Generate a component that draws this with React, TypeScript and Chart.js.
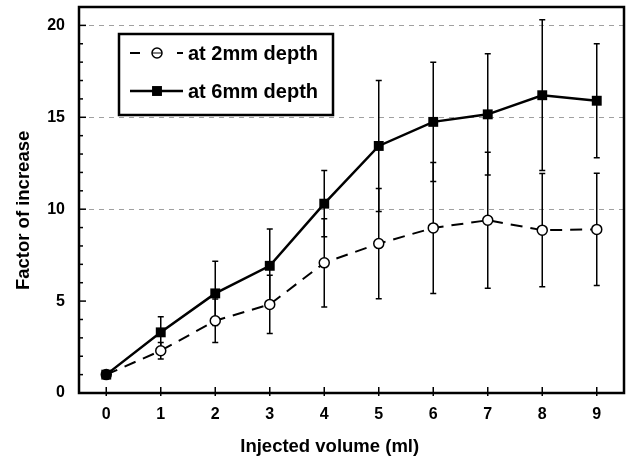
import React, { useEffect, useRef } from 'react';
import { Chart, registerables } from 'chart.js';

Chart.register(...registerables);

const volumes = [0, 1, 2, 3, 4, 5, 6, 7, 8, 9];
const depth2mm = [1.0, 2.3, 3.93, 4.82, 7.08, 8.13, 8.98, 9.4, 8.86, 8.9];
const depth2mmErr = [0, 0.45, 1.18, 1.58, 2.4, 3.0, 3.56, 3.7, 3.08, 3.05];
const depth6mm = [1.0, 3.3, 5.42, 6.92, 10.3, 13.44, 14.75, 15.16, 16.2, 15.9];
const depth6mmErr = [0, 0.85, 1.75, 2.0, 1.8, 3.56, 3.25, 3.3, 4.1, 3.1];
const seriesLabels = ['at 2mm depth', 'at 6mm depth'];
const xTicks = [0, 1, 2, 3, 4, 5, 6, 7, 8, 9];
const yTicks = [0, 5, 10, 15, 20];
const yMinorTicks = [0, 1, 2, 3, 4, 5, 6, 7, 8, 9, 10, 11, 12, 13, 14, 15, 16, 17, 18, 19, 20];
const gridValues = [10, 15, 20];
const xTitle = 'Injected volume (ml)';
const yTitle = 'Factor of increase';

const FONT = "'Liberation Sans', Arial, Helvetica, sans-serif";

const decorPlugin = {
  id: 'decor',
  beforeDatasetsDraw(chart: any) {
    const { ctx, chartArea, scales } = chart;
    const x = scales.x;
    const y = scales.y;
    ctx.save();
    ctx.strokeStyle = '#a0a0a0';
    ctx.lineWidth = 1;
    ctx.setLineDash([5, 5]);
    gridValues.forEach((v) => {
      const py = Math.round(y.getPixelForValue(v)) + 0.5;
      ctx.beginPath();
      ctx.moveTo(chartArea.left, py);
      ctx.lineTo(chartArea.right, py);
      ctx.stroke();
    });
    ctx.setLineDash([]);
    ctx.strokeStyle = '#000';
    ctx.lineWidth = 1.5;
    chart.data.datasets.forEach((ds: any) => {
      ds.data.forEach((pt: any, j: number) => {
        const e = ds.errors[j];
        if (!e) return;
        const px = x.getPixelForValue(pt.x);
        const top = y.getPixelForValue(pt.y + e);
        const bot = y.getPixelForValue(pt.y - e);
        ctx.beginPath();
        ctx.moveTo(px, top);
        ctx.lineTo(px, bot);
        ctx.moveTo(px - 3, top);
        ctx.lineTo(px + 3, top);
        ctx.moveTo(px - 3, bot);
        ctx.lineTo(px + 3, bot);
        ctx.stroke();
      });
    });
    ctx.restore();
  },
  afterDraw(chart: any) {
    const { ctx, chartArea, scales } = chart;
    const x = scales.x;
    const y = scales.y;
    const { left, right, top, bottom } = chartArea;
    ctx.save();
    ctx.strokeStyle = '#000';
    ctx.lineWidth = 2.5;
    ctx.strokeRect(left, top, right - left, bottom - top);
    ctx.lineWidth = 1.5;
    yMinorTicks.forEach((v) => {
      const py = y.getPixelForValue(v);
      const len = yTicks.includes(v) ? 7 : 4;
      ctx.beginPath();
      ctx.moveTo(left, py);
      ctx.lineTo(left + len, py);
      ctx.stroke();
    });
    xTicks.forEach((v) => {
      const px = x.getPixelForValue(v);
      ctx.beginPath();
      ctx.moveTo(px, bottom - 6);
      ctx.lineTo(px, bottom + 3);
      ctx.stroke();
    });
    // axis titles
    ctx.fillStyle = '#000';
    ctx.font = `bold 18.5px ${FONT}`;
    ctx.textAlign = 'center';
    ctx.textBaseline = 'alphabetic';
    ctx.fillText(xTitle, left + (right - left) * 0.46, bottom + 59);
    ctx.save();
    ctx.translate(29, top + (bottom - top) * 0.527);
    ctx.rotate(-Math.PI / 2);
    ctx.fillText(yTitle, 0, 0);
    ctx.restore();
    // legend
    const bx = left + 40;
    const by = top + 27;
    const bw = 214;
    const bh = 81;
    ctx.fillStyle = '#fff';
    ctx.fillRect(bx, by, bw, bh);
    ctx.lineWidth = 2.5;
    ctx.strokeRect(bx, by, bw, bh);
    const rows = [by + 19, by + 57];
    chart.data.datasets.forEach((ds: any, i: number) => {
      const ry = rows[i];
      const x0 = bx + 11;
      const x1 = bx + 64;
      const mx = bx + 38;
      ctx.strokeStyle = '#000';
      ctx.lineWidth = ds.borderWidth;
      ctx.beginPath();
      if (ds.borderDash && ds.borderDash.length) {
        ctx.moveTo(x0, ry);
        ctx.lineTo(x0 + 10, ry);
        ctx.moveTo(x1 - 6, ry);
        ctx.lineTo(x1, ry);
      } else {
        ctx.moveTo(x0, ry);
        ctx.lineTo(x1, ry);
      }
      ctx.stroke();
      if (ds.pointStyle === 'rect') {
        const s = ds.pointRadius * Math.SQRT1_2;
        ctx.fillStyle = '#000';
        ctx.fillRect(mx - s, ry - s, 2 * s, 2 * s);
      } else {
        ctx.beginPath();
        ctx.arc(mx, ry, ds.pointRadius, 0, Math.PI * 2);
        ctx.fillStyle = '#fff';
        ctx.fill();
        ctx.lineWidth = ds.pointBorderWidth;
        ctx.stroke();
        ctx.beginPath();
        ctx.moveTo(mx - ds.pointRadius, ry);
        ctx.lineTo(mx + ds.pointRadius, ry);
        ctx.lineWidth = 1;
        ctx.stroke();
      }
      ctx.fillStyle = '#000';
      ctx.font = `bold 20px ${FONT}`;
      ctx.textBaseline = 'middle';
      ctx.textAlign = 'left';
      ctx.fillText(seriesLabels[i], bx + 69, ry + 1);
    });
    ctx.restore();
  },
};

export default function App() {
  const ref = useRef<HTMLCanvasElement | null>(null);
  useEffect(() => {
    document.body.style.margin = '0';
    const canvas = ref.current;
    if (!canvas) return;
    const chart = new Chart(canvas, {
      type: 'line',
      data: {
        datasets: [
          {
            label: seriesLabels[0],
            data: volumes.map((v, i) => ({ x: v, y: depth2mm[i] })),
            errors: depth2mmErr,
            order: 2,
            borderColor: '#000',
            borderWidth: 2,
            borderDash: [12, 8],
            pointStyle: 'circle',
            pointRadius: 5,
            pointBorderWidth: 1.5,
            pointBackgroundColor: '#fff',
            pointBorderColor: '#000',
            tension: 0,
          } as any,
          {
            label: seriesLabels[1],
            data: volumes.map((v, i) => ({ x: v, y: depth6mm[i] })),
            errors: depth6mmErr,
            order: 1,
            borderColor: '#000',
            borderWidth: 2.5,
            pointStyle: 'rect',
            pointRadius: 7,
            pointBorderWidth: 0,
            pointBackgroundColor: '#000',
            pointBorderColor: '#000',
            tension: 0,
          } as any,
        ],
      },
      options: {
        responsive: false,
        animation: false,
        devicePixelRatio: 1,
        layout: { padding: { top: 7, right: 6, left: 0, bottom: 0 } },
        plugins: { legend: { display: false }, tooltip: { enabled: false } },
        scales: {
          x: {
            type: 'linear',
            min: -0.5,
            max: 9.5,
            afterBuildTicks: (s: any) => {
              s.ticks = xTicks.map((v) => ({ value: v }));
            },
            afterFit: (s: any) => {
              s.height = 64;
              s.paddingLeft = 0;
              s.paddingRight = 0;
            },
            grid: { display: false, drawTicks: false },
            border: { display: false },
            ticks: {
              color: '#000',
              padding: 12,
              font: { family: FONT, size: 16, weight: 'bold' },
              callback: (v: any) => String(v),
            },
            title: { display: false },
          },
          y: {
            type: 'linear',
            min: 0,
            max: 21,
            afterBuildTicks: (s: any) => {
              s.ticks = yTicks.map((v) => ({ value: v }));
            },
            afterFit: (s: any) => {
              s.width = 79;
              s.paddingTop = 0;
              s.paddingBottom = 0;
            },
            grid: { display: false, drawTicks: false },
            border: { display: false },
            ticks: {
              color: '#000',
              padding: 14,
              font: { family: FONT, size: 16, weight: 'bold' },
              callback: (v: any) => String(v),
            },
            title: { display: false },
          },
        },
      } as any,
      plugins: [decorPlugin],
    });
    return () => chart.destroy();
  }, []);
  return (
    <div style={{ width: 631, height: 457 }}>
      <canvas ref={ref} width={631} height={457} style={{ display: 'block' }} />
    </div>
  );
}
